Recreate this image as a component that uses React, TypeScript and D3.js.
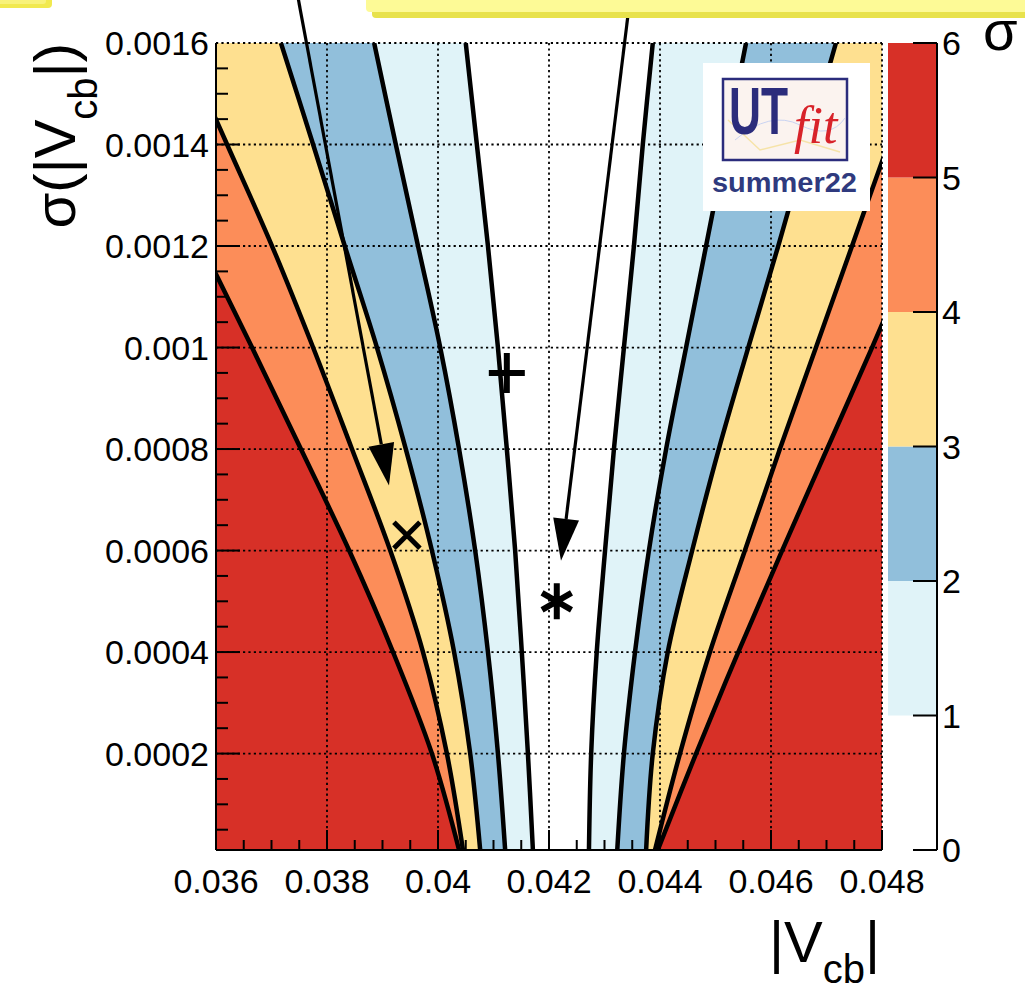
import React from 'react';
import * as d3 from 'd3';

const W = 1025;
const H = 994;

// contour sample heights (sigma(|Vcb|))
const sigmaY = [0.0016, 0.0014, 0.0012, 0.001, 0.0008, 0.0006, 0.0004, 0.0002, 0.00001];
// |Vcb| positions of contour boundaries at each height, left and right side, for n-sigma levels 1..5
const left1 = [0.0405, 0.0407, 0.0409, 0.04108, 0.04124, 0.04139, 0.04151, 0.04162, 0.04171];
const left2 = [0.03885, 0.03924, 0.03964, 0.04004, 0.04038, 0.04067, 0.0409, 0.04108, 0.04121];
const left3 = [0.03717, 0.03775, 0.03832, 0.0389, 0.03942, 0.03989, 0.04029, 0.04058, 0.04076];
const left4 = [0.03539, 0.0362, 0.03701, 0.03775, 0.03845, 0.03914, 0.03973, 0.04016, 0.04045];
const left5 = [0.03396, 0.03486, 0.03575, 0.03665, 0.03753, 0.0384, 0.03919, 0.03989, 0.04038];
const right1 = [0.04387, 0.04369, 0.04353, 0.04335, 0.04317, 0.04301, 0.04286, 0.04276, 0.04272];
const right2 = [0.04555, 0.04519, 0.04483, 0.04447, 0.04411, 0.0438, 0.04355, 0.04335, 0.04323];
const right3 = [0.04717, 0.04665, 0.04613, 0.04559, 0.04506, 0.04458, 0.04414, 0.04387, 0.04375];
const right4 = [0.04878, 0.04811, 0.04746, 0.04681, 0.04616, 0.04553, 0.0449, 0.04436, 0.04391];
const right5 = [0.0502, 0.04941, 0.04861, 0.04782, 0.04701, 0.0462, 0.04541, 0.04465, 0.04396];

const leftContours = [left1, left2, left3, left4, left5];
const rightContours = [right1, right2, right3, right4, right5];
const bandColors = ['#e0f3f8', '#91bfdb', '#fee090', '#fc8d59', '#d73027'];
const colorBarLevels = [0, 1, 2, 3, 4, 5, 6];

const xTicks = [0.036, 0.038, 0.04, 0.042, 0.044, 0.046, 0.048];
const xTickLabels = ['0.036', '0.038', '0.04', '0.042', '0.044', '0.046', '0.048'];
const yTicks = [0.0002, 0.0004, 0.0006, 0.0008, 0.001, 0.0012, 0.0014, 0.0016];
const yTickLabels = ['0.0002', '0.0004', '0.0006', '0.0008', '0.001', '0.0012', '0.0014', '0.0016'];

// markers: [|Vcb|, sigma]
const markerPlus = [0.04124, 0.00095];
const markerCross = [0.03944, 0.00063];
const markerStar = [0.04214, 0.0005];
// arrows: [x0, y0, x1, y1] in data coordinates
const arrows = [
  [0.03746, 0.0017, 0.039117, 0.000728],
  [0.043423, 0.001655, 0.042216, 0.00058],
];

const FONT = "'Liberation Sans', Arial, Helvetica, sans-serif";

export default function App() {
  const xs = d3.scaleLinear().domain([0.036, 0.048]).range([216, 882]);
  const ys = d3.scaleLinear().domain([0.00001, 0.0016]).range([850, 43]);
  const cs = d3.scaleLinear().domain([0, 6]).range([850, 43]);
  const [px0, px1] = xs.range();
  const [py1, py0] = ys.range();

  const pts = (arr: number[]) => arr.map((x, i) => ({ x, y: sigmaY[i] }));
  const leftArea = d3
    .area<{ x: number; y: number }>()
    .y((d) => ys(d.y))
    .x0(() => 0)
    .x1((d) => xs(d.x))
    .curve(d3.curveCatmullRom);
  const rightArea = d3
    .area<{ x: number; y: number }>()
    .y((d) => ys(d.y))
    .x0((d) => xs(d.x))
    .x1(() => W + 200)
    .curve(d3.curveCatmullRom);
  const line = d3
    .line<{ x: number; y: number }>()
    .x((d) => xs(d.x))
    .y((d) => ys(d.y))
    .curve(d3.curveCatmullRom);

  const minorX = d3.range(0.036, 0.04801, 0.0005);
  const minorY = d3.range(0.00005, 0.0016, 0.00005);

  const plus = [xs(markerPlus[0]), ys(markerPlus[1])];
  const cross = [xs(markerCross[0]), ys(markerCross[1])];
  const star = [xs(markerStar[0]), ys(markerStar[1])];
  const a30 = Math.cos(Math.PI / 6);

  return (
    <svg
      width={W}
      height={H}
      viewBox={`0 0 ${W} ${H}`}
      style={{ position: 'absolute', left: 0, top: 0, background: '#fff' }}
    >
      <defs>
        <clipPath id="plotClip">
          <rect x={px0} y={py0} width={px1 - px0} height={py1 - py0} />
        </clipPath>
      </defs>
      <rect x={0} y={0} width={W} height={H} fill="#fff" />

      {/* filled sigma bands */}
      <g clipPath="url(#plotClip)">
        <rect x={px0} y={py0} width={px1 - px0} height={py1 - py0} fill="#fff" />
        {leftContours.map((c, i) => (
          <g key={i}>
            <path d={leftArea(pts(c)) || ''} fill={bandColors[i]} />
            <path d={rightArea(pts(rightContours[i])) || ''} fill={bandColors[i]} />
          </g>
        ))}
        {leftContours.map((c, i) => (
          <g key={'l' + i}>
            <path d={line(pts(c)) || ''} fill="none" stroke="#000" strokeWidth={4.5} />
            <path d={line(pts(rightContours[i])) || ''} fill="none" stroke="#000" strokeWidth={4.5} />
          </g>
        ))}
      </g>

      {/* grid */}
      <g stroke="#000" strokeWidth={1.8} strokeDasharray="2.2,3.2">
        {xTicks.slice(1).map((t) => (
          <line key={t} x1={xs(t)} x2={xs(t)} y1={py0} y2={py1} />
        ))}
        {yTicks.map((t) => (
          <line key={t} x1={px0} x2={px1} y1={ys(t)} y2={ys(t)} />
        ))}
      </g>

      {/* frame */}
      <line x1={px0} x2={px0} y1={py0} y2={py1} stroke="#000" strokeWidth={2} />
      <line x1={px0} x2={px1} y1={py1} y2={py1} stroke="#000" strokeWidth={2} />

      {/* ticks */}
      <g stroke="#000" strokeWidth={2}>
        {minorX.map((t, i) => {
          const major = i % 4 === 0;
          return <line key={'mx' + i} x1={xs(t)} x2={xs(t)} y1={py1} y2={py1 - (major ? 20 : 10)} />;
        })}
        {minorY.map((t, i) => {
          const major = (i + 1) % 4 === 0;
          return <line key={'my' + i} x1={px0} x2={px0 + (major ? 24 : 12)} y1={ys(t)} y2={ys(t)} />;
        })}
      </g>

      {/* tick labels */}
      <g fontFamily={FONT} fontSize={34} fill="#000">
        {xTicks.map((t, i) => (
          <text key={t} x={xs(t)} y={893} textAnchor="middle">
            {xTickLabels[i]}
          </text>
        ))}
        {yTicks.map((t, i) => (
          <text key={t} x={209} y={ys(t)} dy="0.36em" textAnchor="end">
            {yTickLabels[i]}
          </text>
        ))}
      </g>

      {/* markers */}
      <g stroke="#000" strokeLinecap="butt" fill="none">
        <path
          d={`M${plus[0] - 18},${plus[1]}H${plus[0] + 18}M${plus[0]},${plus[1] - 20}V${plus[1] + 20}`}
          strokeWidth={6}
        />
        <path
          d={`M${cross[0] - 13},${cross[1] - 13}L${cross[0] + 13},${cross[1] + 13}M${cross[0] - 13},${cross[1] + 13}L${cross[0] + 13},${cross[1] - 13}`}
          strokeWidth={5}
        />
        <path
          d={`M${star[0]},${star[1] - 18}V${star[1] + 18}M${star[0] - 17 * a30},${star[1] - 8.5}L${star[0] + 17 * a30},${star[1] + 8.5}M${star[0] - 17 * a30},${star[1] + 8.5}L${star[0] + 17 * a30},${star[1] - 8.5}`}
          strokeWidth={6}
        />
      </g>

      {/* logo */}
      <g>
        <rect x={703} y={63} width={167} height={148} fill="#fff" />
        <rect x={723} y={79} width={124} height={81} fill="#fbf3ef" stroke="#2b2c7c" strokeWidth={2.5} />
        <path d="M735,140 Q770,110 800,125 T845,118" fill="none" stroke="#c9d3f2" strokeWidth={1} />
        <path d="M728,120 L760,150 L800,140 L840,152" fill="none" stroke="#f6e3a8" strokeWidth={1.5} />
        <text x={729} y={134} fontFamily={FONT} fontWeight="bold" fontSize={66} fill="#2b2c7c" textLength={59} lengthAdjust="spacingAndGlyphs">
          UT
        </text>
        <text x={794} y={143} fontFamily="'Liberation Serif', 'Times New Roman', serif" fontStyle="italic" fontSize={52} fill="#d8232a">
          fit
        </text>
        <text x={712} y={192} fontFamily={FONT} fontWeight="bold" fontSize={28} fill="#2f3a7e" textLength={145} lengthAdjust="spacingAndGlyphs">
          summer22
        </text>
      </g>

      {/* colour bar */}
      <g>
        {bandColors.map((c, i) => (
          <rect key={c} x={888} y={cs(i + 2)} width={48} height={cs(i + 1) - cs(i + 2)} fill={c} />
        ))}
        <line x1={937} x2={937} y1={cs(0)} y2={cs(6)} stroke="#000" strokeWidth={2} />
        {colorBarLevels.map((l) => (
          <g key={l}>
            <line x1={913} x2={937} y1={cs(l)} y2={cs(l)} stroke="#000" strokeWidth={2} />
            <text x={942} y={cs(l)} dy="0.36em" fontFamily={FONT} fontSize={34}>
              {l}
            </text>
          </g>
        ))}
      </g>

      {/* arrows */}
      {arrows.map((a, i) => {
        const x0 = xs(a[0]);
        const y0 = ys(a[1]);
        const x1 = xs(a[2]);
        const y1 = ys(a[3]);
        const ang = Math.atan2(y1 - y0, x1 - x0);
        const L = 42;
        const hw = 13;
        const bx = x1 - L * Math.cos(ang);
        const by = y1 - L * Math.sin(ang);
        const nx = -Math.sin(ang);
        const ny = Math.cos(ang);
        return (
          <g key={i}>
            <line x1={x0} y1={y0} x2={bx} y2={by} stroke="#000" strokeWidth={3.2} />
            <path
              d={`M${x1},${y1}L${bx + nx * hw},${by + ny * hw}L${bx - nx * hw},${by - ny * hw}Z`}
              fill="#000"
            />
          </g>
        );
      })}

      {/* axis titles */}
      <text x={880} y={962} textAnchor="end" fontFamily={FONT} fontSize={58} fill="#000">
        |V
        <tspan fontSize={40} dy={21}>
          cb
        </tspan>
        <tspan dy={-21}>|</tspan>
      </text>
      <text transform="translate(75,43) rotate(-90)" textAnchor="end" fontFamily={FONT} fontSize={58} fill="#000">
        σ(|V
        <tspan fontSize={40} dy={22}>
          cb
        </tspan>
        <tspan dy={-22}>|)</tspan>
      </text>
      <text x={983} y={50} fontFamily={FONT} fontSize={56} fill="#000">
        σ
      </text>

      {/* annotation boxes cut at top */}
      <rect x={-10} y={-10} width={62} height={18} rx={4} fill="#f1e94f" />
      <rect x={-10} y={-10} width={56} height={14} rx={3} fill="#f8f27a" />
      <rect x={372} y={-10} width={700} height={28} rx={4} fill="#e8e24c" />
      <rect x={366} y={-10} width={700} height={22} rx={4} fill="#fdfa96" />
    </svg>
  );
}
